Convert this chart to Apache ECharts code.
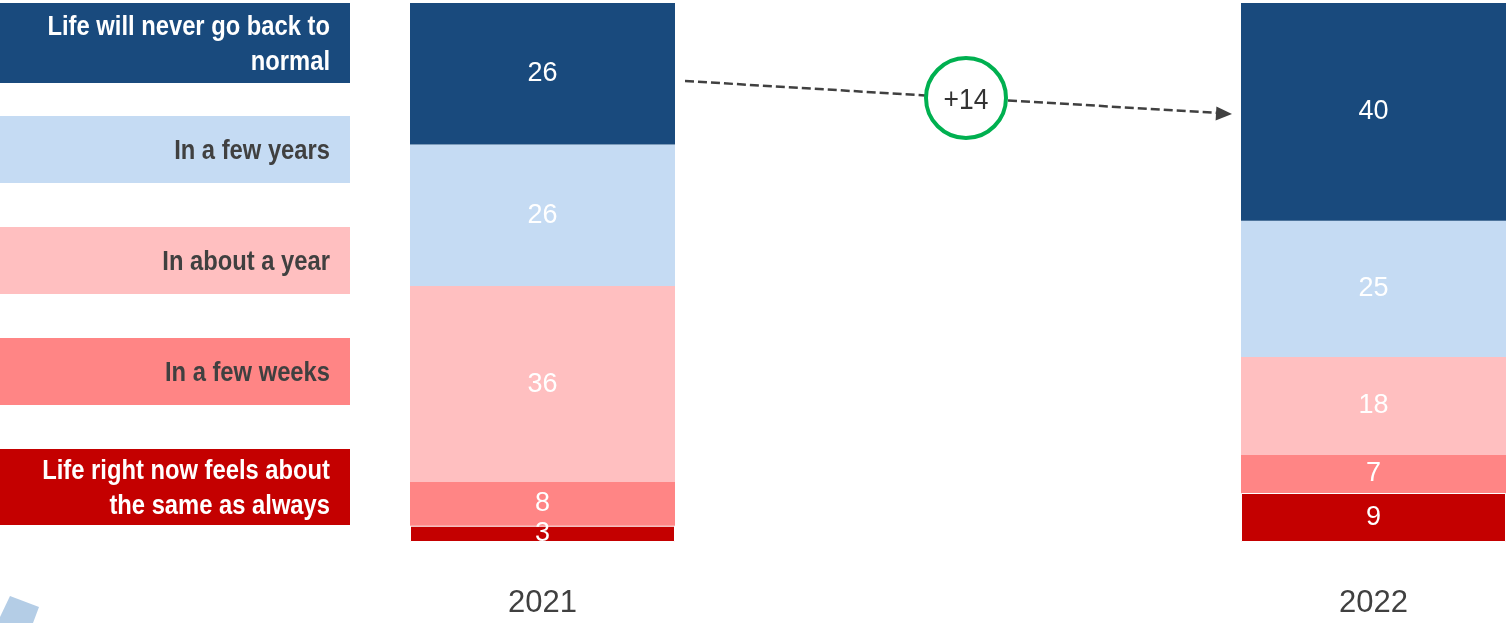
<!DOCTYPE html>
<html>
<head>
<meta charset="utf-8">
<script src="https://cdn.jsdelivr.net/npm/echarts@6/dist/echarts.min.js"></script>
<style>
  html, body { margin: 0; padding: 0; background: #fff; }
  #chart { width: 1506px; height: 623px; }
</style>
</head>
<body>
<div id="chart"></div>
<script>
// data, stacked bottom to top
const years = ['2021', '2022']
const answers = [
  'Life right now feels about\nthe same as always',
  'In a few weeks',
  'In about a year',
  'In a few years',
  'Life will never go back to\nnormal',
]
const sameAsAlways = [3, 9]
const fewWeeks = [8, 7]
const aboutAYear = [36, 18]
const fewYears = [26, 25]
const neverBack = [26, 40]

const values = [sameAsAlways, fewWeeks, aboutAYear, fewYears, neverBack]
const colors = ['#C40000', '#FF8585', '#FFBFC0', '#C5DBF3', '#194A7D']
const legendTextColors = ['#fff', '#404040', '#404040', '#404040', '#fff']
const font = '"Liberation Sans Narrow", "Liberation Sans", Arial, sans-serif'
// no narrow face installed, squeeze the drawn texts a bit
const squeeze = 0.88

const chart = echarts.init(document.getElementById('chart'))

const series = values.map((v, i) => ({
  name: answers[i],
  type: 'bar',
  stack: 'total',
  barWidth: 265,
  clip: false,
  data: v,
  itemStyle: i === 0
    ? { color: colors[i], borderColor: '#fff', borderWidth: 1 }
    : { color: colors[i] },
  label: {
    show: true,
    position: 'inside',
    color: '#fff',
    fontSize: 27,
    fontFamily: font,
  },
  emphasis: { disabled: true },
}))

// legend boxes on the left (top to bottom)
const boxes = [[3, 83], [116, 183], [227, 294], [338, 405], [449, 525]]
const legendGraphics = []
boxes.forEach((b, k) => {
  const i = answers.length - 1 - k
  legendGraphics.push({
    type: 'rect',
    shape: { x: 0, y: b[0], width: 350, height: b[1] - b[0] },
    style: { fill: colors[i] },
  })
  legendGraphics.push({
    type: 'text',
    x: 330,
    y: (b[0] + b[1]) / 2 + 2,
    scaleX: squeeze,
    style: {
      text: answers[i],
      align: 'right',
      verticalAlign: 'middle',
      fill: legendTextColors[i],
      font: 'bold 27px ' + font,
      lineHeight: 35,
    },
  })
})

// change annotation
const delta = neverBack[1] - neverBack[0]
const arrowColor = '#404040'
const annotation = [
  {
    type: 'line',
    shape: { x1: 685, y1: 81, x2: 925, y2: 95.4 },
    style: { stroke: arrowColor, lineWidth: 2.5, lineDash: [9, 4] },
  },
  {
    type: 'line',
    shape: { x1: 1008, y1: 100.4, x2: 1218, y2: 113 },
    style: { stroke: arrowColor, lineWidth: 2.5, lineDash: [9, 4] },
  },
  {
    type: 'polygon',
    shape: { points: [[1232, 114], [1216.4, 106.5], [1215.6, 120.5]] },
    style: { fill: arrowColor },
  },
  {
    type: 'circle',
    shape: { cx: 966, cy: 98, r: 40 },
    style: { fill: '#fff', stroke: '#00B050', lineWidth: 4 },
  },
  {
    type: 'text',
    x: 966,
    y: 101,
    scaleX: squeeze,
    style: {
      text: (delta > 0 ? '+' : '') + delta,
      align: 'center',
      verticalAlign: 'middle',
      fill: '#333',
      font: '30px ' + font,
    },
  },
  {
    type: 'polygon',
    shape: { points: [[10, 596], [39, 607], [33, 623], [0, 623], [0, 617]] },
    style: { fill: '#B4CDE6' },
  },
]

const option = {
  animation: false,
  grid: {
    left: 542.5,
    right: 132.5,
    top: 3,
    bottom: 81,
  },
  xAxis: {
    type: 'category',
    data: years,
    boundaryGap: false,
    axisLine: { show: false },
    axisTick: { show: false },
    axisLabel: {
      color: '#404040',
      fontSize: 31,
      fontFamily: font,
      margin: 46,
    },
  },
  yAxis: {
    type: 'value',
    min: 0,
    max: 99,
    show: false,
  },
  series,
  graphic: legendGraphics.concat(annotation),
}

chart.setOption(option)
</script>
</body>
</html>
